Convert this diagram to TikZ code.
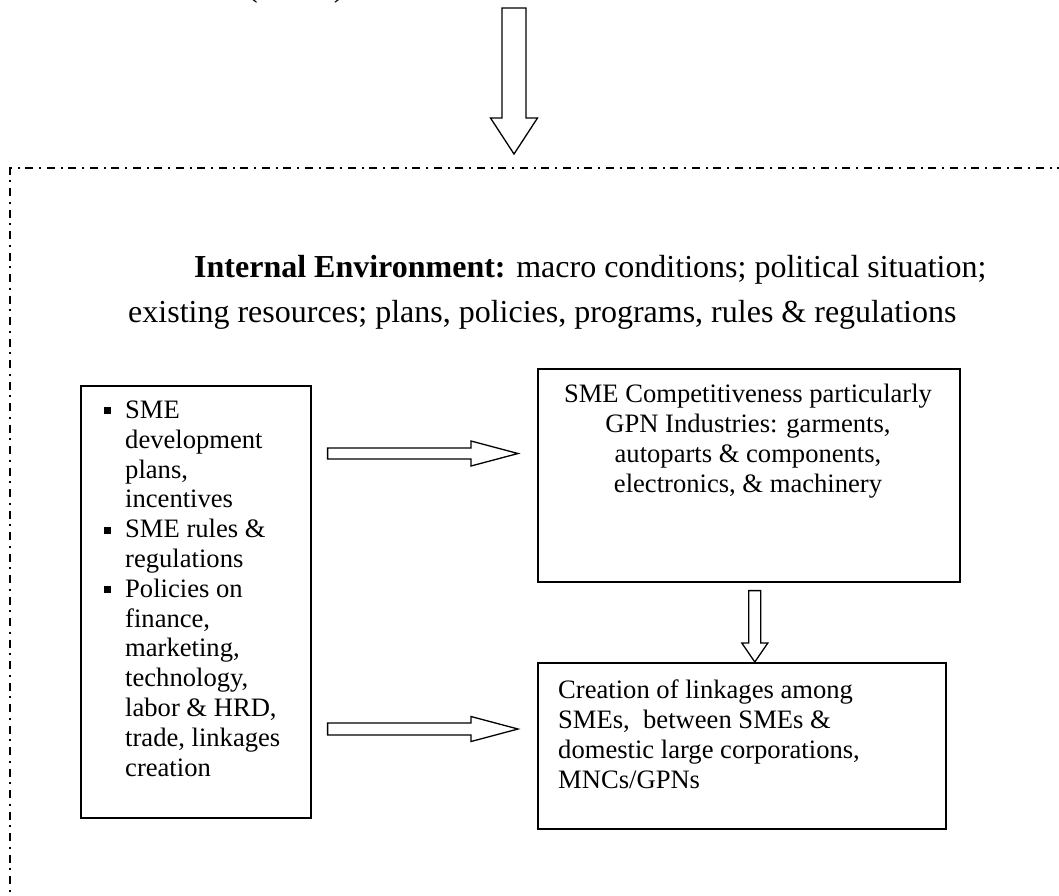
\documentclass[tikz,border=0pt]{standalone}
\usepackage{fontspec}
\setmainfont{Liberation Serif}
\usetikzlibrary{calc}
\newcommand\sqbul{\makebox[21pt][l]{\rule[4pt]{7pt}{7pt}}}
\newcommand\bind{\hspace*{21pt}}
\begin{document}
\begin{tikzpicture}[x=1pt,y=-1pt,
  box/.style={draw,line width=1.6pt,inner sep=0pt},
  txt/.style={inner sep=0pt,font=\fontsize{26.6}{29.8}\selectfont},
  bigtxt/.style={inner sep=0pt,font=\fontsize{32}{45}\selectfont},
  blockarrow/.style={draw,line width=1.3pt,fill=white,line join=miter},
  frame/.style={line width=1.1pt,dash pattern=on 8pt off 5.5pt on 2pt off 6pt}]
\useasboundingbox (0,0) rectangle (1059,895);

% partially visible text at the very top
\node[bigtxt,anchor=base west] (toptxt) at (247,-3.5) {(\hspace{76pt})};

% dash-dot frame
\coordinate (fTR) at (1065,168);
\coordinate (fTL) at (10,168);
\coordinate (fBL) at (10,900);
\draw[frame] (fTR) -- (fTL) -- (fBL);

% boxes
\node[box,minimum width=230pt,minimum height=432pt,anchor=north west] (left) at (80,385) {};
\node[box,minimum width=422pt,minimum height=213pt,anchor=north west] (right) at (537,368) {};
\node[box,minimum width=408pt,minimum height=166pt,anchor=north west] (lower) at (537,662) {};

% texts
\node[bigtxt,anchor=base west] (ie1) at (194,277) {\textbf{Internal Environment:} macro conditions; political situation;};
\node[bigtxt,anchor=base west] (ie2) at (128,322) {existing resources; plans, policies, programs, rules \& regulations};

% multi-line nodes: base anchor = baseline of the last line
\node[txt,anchor=base west,align=left] (lefttxt) at (104,776) {\sqbul SME\\ \bind development\\ \bind plans,\\ \bind incentives\\ \sqbul SME rules \&\\ \bind regulations\\ \sqbul Policies on\\ \bind finance,\\ \bind marketing,\\ \bind technology,\\ \bind labor \& HRD,\\ \bind trade, linkages\\ \bind creation};

\node[txt,anchor=base,align=center] (righttxt) at (748,492) {SME Competitiveness particularly\\GPN Industries: garments,\\autoparts \& components,\\electronics, \& machinery};

\node[txt,anchor=base west,align=left] (lowertxt) at (558,788) {Creation of linkages among\\SMEs,\ \ between SMEs \&\\domestic large corporations,\\MNCs/GPNs};

% block arrows
% top arrow (from outside into frame)
\coordinate (topS) at (514,8);
\coordinate (topT) at (514,154);
\draw[blockarrow] ($(topS)+(-12,0)$) -- ($(topT)+(-12,-36)$) -- ($(topT)+(-23.5,-36)$) -- (topT)
  -- ($(topT)+(23.5,-36)$) -- ($(topT)+(12,-36)$) -- ($(topS)+(12,0)$) -- cycle;

% left box -> right box
\coordinate (a1s) at ($(left.north east)+(16,68.5)$);
\coordinate (a1t) at ($(right.north west)+(-19,85.5)$);
\draw[blockarrow] ($(a1s)+(0,-5.5)$) -- ($(a1t)+(-47,-5.5)$) -- ($(a1t)+(-47,-12.5)$) -- (a1t)
  -- ($(a1t)+(-47,12.5)$) -- ($(a1t)+(-47,5.5)$) -- ($(a1s)+(0,5.5)$) -- cycle;

% left box -> lower box
\coordinate (a2s) at ($(left.north east)+(16,344)$);
\coordinate (a2t) at ($(lower.north west)+(-19,67)$);
\draw[blockarrow] ($(a2s)+(0,-6)$) -- ($(a2t)+(-47,-6)$) -- ($(a2t)+(-47,-12.5)$) -- (a2t)
  -- ($(a2t)+(-47,12.5)$) -- ($(a2t)+(-47,6)$) -- ($(a2s)+(0,6)$) -- cycle;

% right box -> lower box
\coordinate (a3s) at ($(right.south)+(6,8)$);
\coordinate (a3t) at ($(lower.north)+(13,0)$);
\draw[blockarrow] ($(a3s)+(-6,0)$) -- ($(a3t)+(-6,-19)$) -- ($(a3t)+(-13,-19)$) -- (a3t)
  -- ($(a3t)+(13,-19)$) -- ($(a3t)+(6,-19)$) -- ($(a3s)+(6,0)$) -- cycle;
\end{tikzpicture}
\end{document}
